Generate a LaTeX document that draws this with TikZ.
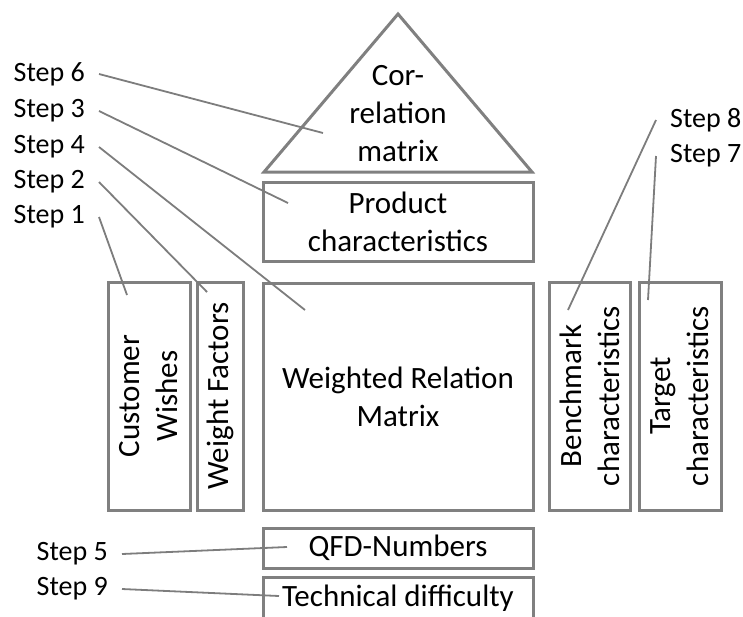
\documentclass[tikz,border=0pt]{standalone}
\usepackage{fontspec}
\setmainfont{Carlito}
\usetikzlibrary{positioning}
\definecolor{framegray}{RGB}{128,128,128}
\definecolor{linegray}{RGB}{125,125,125}

\tikzset{
  box/.style={draw=framegray, line width=3pt, inner sep=0pt, align=center,
    font=\fontsize{31}{38}\selectfont},
  steplbl/.style={inner xsep=14pt, inner ysep=0pt, font=\fontsize{28}{34}\selectfont},
  conn/.style={draw=linegray, line width=1.8pt}
}

\begin{document}
\begin{tikzpicture}[x=1pt,y=-1pt]
  \useasboundingbox (0,0) rectangle (743,616);
  % roof of the house
  \draw[framegray, line width=3pt] (264,172) -- (398,14) -- (532,172) -- cycle;
  \node[box, draw=none] (corr) at (398,114) {Cor-\\relation\\matrix};

  % rooms
  \node[box, minimum width=270pt, minimum height=79pt] (prod) at (398,221.5) {Product\\characteristics};
  \node[box, minimum width=270pt, minimum height=227pt] (wrm) at (398,396.5) {Weighted Relation\\Matrix};
  \node[box, rotate=90, minimum width=228pt, minimum height=82pt] (cw) at (149,396) {Customer\\Wishes};
  \node[box, rotate=90, minimum width=228pt, minimum height=46pt] (wf) at (220,396) {Weight Factors};
  \node[box, rotate=90, minimum width=228pt, minimum height=81pt] (bm) at (589.5,396) {Benchmark\\characteristics};
  \node[box, rotate=90, minimum width=228pt, minimum height=82pt] (tg) at (680,396) {Target\\characteristics};
  \node[box, minimum width=270pt, minimum height=40pt] (qfd) at (398,548) {QFD-Numbers};
  \node[box, minimum width=270pt, minimum height=42pt] (tech) at (398,598) {Technical difficulty};

  % steps on the left
  \foreach \n/\y/\ex/\ey in {6/74/323/133, 3/111/288/203, 4/147/305/310, 2/182/207/292, 1/217/127/295}
  {
    \node[steplbl, anchor=east] (s\n) at (99,\y) {Step \n};
    \coordinate (e\n) at (\ex,\ey);
    \draw[conn] (s\n.east) -- (e\n);
  }
  % steps on the right
  \foreach \n/\y/\ex/\ey in {8/120/568/310, 7/156/648/300}
  {
    \node[steplbl, anchor=west] (s\n) at (656,\y) {Step \n};
    \coordinate (e\n) at (\ex,\ey);
    \draw[conn] (s\n.west) -- (e\n);
  }
  % steps at the bottom
  \foreach \n/\y/\ex/\ey in {5/554/287/547, 9/589/279/596}
  {
    \node[steplbl, anchor=east] (s\n) at (122,\y) {Step \n};
    \coordinate (e\n) at (\ex,\ey);
    \draw[conn] (s\n.east) -- (e\n);
  }
\end{tikzpicture}
\end{document}
